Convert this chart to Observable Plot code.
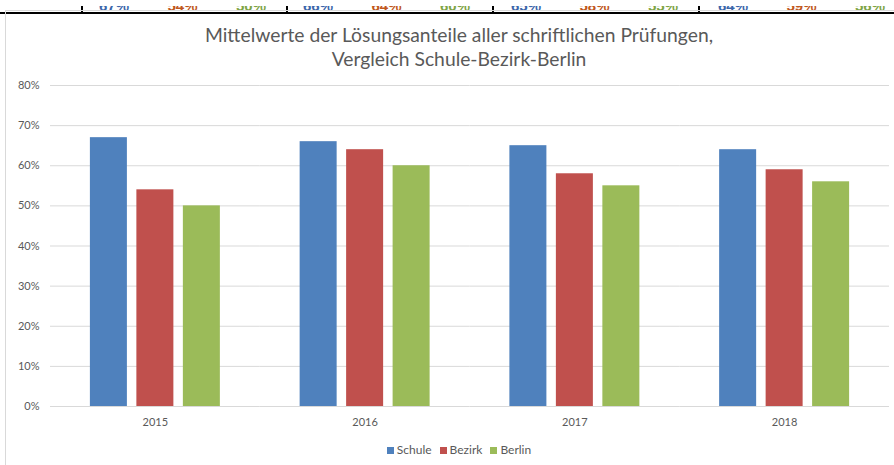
<!DOCTYPE html>
<html>
<head>
<meta charset="utf-8">
<script src="https://cdn.jsdelivr.net/npm/d3@7"></script>
<script src="https://cdn.jsdelivr.net/npm/@observablehq/plot@0.6"></script>
<style>
  html, body { margin: 0; padding: 0; background: #fff; }
  #page { position: relative; width: 894px; height: 465px; overflow: hidden; background: #fff; font-family: Lato, "Open Sans", sans-serif; }
  #frame { position: absolute; left: 5px; top: 10px; width: 1000px; height: 1000px; border: 1px solid #d9d9d9; box-sizing: border-box; }
  #title { position: absolute; left: 0; width: 918px; top: 23px; text-align: center; color: #595959; font-size: 19.3px; line-height: 24px; }
  #chart { position: absolute; left: 0; top: 70px; }
  #legend { position: absolute; left: 0; width: 918px; top: 443px; text-align: center; color: #595959; font-size: 12px; line-height: 14px; white-space: nowrap; }
  #legend span.item { display: inline-block; margin: 0 4px; }
  #legend span.sw { display: inline-block; width: 7px; height: 7px; margin-right: 3px; vertical-align: 0px; }
  #strip { position: absolute; left: 0; top: 0; }
</style>
</head>
<body>
<div id="page">
  <div id="strip"></div>
  <div id="frame"></div>
  <div id="title">Mittelwerte der Lösungsanteile aller schriftlichen Prüfungen,<br>Vergleich Schule-Bezirk-Berlin</div>
  <div id="chart"></div>
  <div id="legend"></div>
</div>
<script>
const years = ["2015", "2016", "2017", "2018"];
const series = ["Schule", "Bezirk", "Berlin"];
const schule = [67, 66, 65, 64];
const bezirk = [54, 64, 58, 59];
const berlin = [50, 60, 55, 56];
const yTicks = [0, 10, 20, 30, 40, 50, 60, 70, 80];
const colors = ["#4f81bd", "#c0504d", "#9bbb59"];
const tableColors = ["#3b66aa", "#c0571c", "#7ea444"];

const valuesBySeries = [schule, bezirk, berlin];
const rows = years.flatMap((yr, i) => series.map((s, j) => ({ year: yr, series: s, value: valuesBySeries[j][i] })));

// cut-off table strip at the top of the screenshot
(function () {
  const svg = d3.select("#strip").append("svg").attr("width", 894).attr("height", 10);
  svg.append("rect").attr("x", 0).attr("y", 6).attr("width", 894).attr("height", 2).attr("fill", "#000");
  [81, 286, 492, 698].forEach(x => svg.append("rect").attr("x", x).attr("y", 0).attr("width", 2).attr("height", 8).attr("fill", "#000"));
  const colStart = [114, 318, 526, 733];
  const colStep = 68.5;
  years.forEach((yr, i) => {
    series.forEach((s, j) => {
      svg.append("text")
        .attr("x", colStart[i] + j * colStep)
        .attr("y", 4.5)
        .attr("text-anchor", "middle")
        .attr("font-family", "Liberation Sans, Arial, sans-serif")
        .attr("font-weight", "bold")
        .attr("font-size", 15)
        .attr("fill", tableColors[j])
        .text(valuesBySeries[j][i] + "%");
    });
  });
})();

const chart = Plot.plot({
  width: 894,
  height: 370,
  marginTop: 15,
  marginBottom: 34,
  marginLeft: 50,
  marginRight: 5,
  style: { fontFamily: "Lato, sans-serif", fontSize: "11px", color: "#595959", background: "transparent" },
  fx: { domain: years, padding: 0, round: false, label: null, axis: "bottom", tickSize: 0, tickPadding: 12 },
  x: { domain: series, axis: null, round: false, paddingInner: 0.204, paddingOuter: 0.858 },
  y: { domain: [0, 80], ticks: yTicks, tickFormat: d => d + "%", tickSize: 0, tickPadding: 11, label: null },
  color: { domain: series, range: colors },
  marks: [
    Plot.ruleY(yTicks, { stroke: "#d9d9d9", strokeWidth: 1 }),
    Plot.barY(rows, { fx: "year", x: "series", y: "value", fill: "series" })
  ]
});
document.getElementById("chart").appendChild(chart);

const legend = d3.select("#legend");
series.forEach((s, j) => {
  const item = legend.append("span").attr("class", "item");
  item.append("span").attr("class", "sw").style("background", colors[j]);
  item.append("span").text(s);
});
</script>
</body>
</html>
